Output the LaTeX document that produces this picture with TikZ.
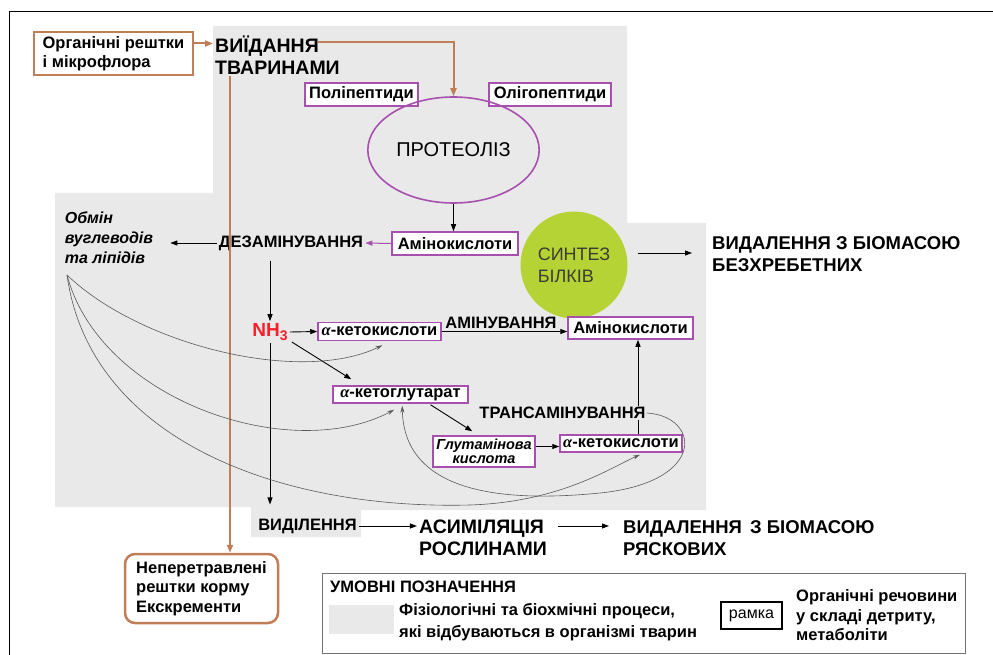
\documentclass[tikz,border=0pt]{standalone}
\usepackage{fontspec}
\setmainfont{Liberation Sans}
\newfontfamily\grf{Liberation Serif}
\usetikzlibrary{arrows.meta,shapes.geometric,calc}
\definecolor{brn}{RGB}{192,125,88}
\definecolor{prp}{RGB}{168,80,176}
\definecolor{grn}{RGB}{181,211,52}
\definecolor{gry}{RGB}{233,233,233}
\definecolor{nhred}{RGB}{250,30,40}
\definecolor{syn}{RGB}{60,60,50}
\newcommand\alf{{\grf\bfseries\itshape α}}
\tikzset{
  lbl/.style={inner sep=2pt, font=\fontsize{16.5}{19.5}\selectfont\bfseries, align=left},
  big/.style={inner sep=2pt, font=\fontsize{19.5}{21.5}\selectfont\bfseries, align=left},
  pbox/.style={draw=prp, line width=1.5pt, fill=white, inner sep=1pt, font=\fontsize{16.5}{17}\selectfont\bfseries},
  arr/.style={-{Triangle[length=7pt,width=5pt]}, line width=0.9pt},
  parr/.style={draw=prp, -{Triangle[length=7pt,width=5pt]}, line width=1pt},
  barr/.style={draw=brn, -{Triangle[length=8pt,width=6pt]}, line width=2pt},
  cur/.style={draw=black!65, line width=0.6pt, -{Stealth[length=7pt,width=4pt]}},
}
\begin{document}
\begin{tikzpicture}[x=1pt,y=-1pt]
\useasboundingbox (0,0) rectangle (993,655);
% frame
\draw[line width=1pt] (9,655) -- (9,12) -- (993,12);
% grey area
\fill[gry] (213,26) -- (627,26) -- (627,223) -- (706,223) -- (706,510) -- (361,510)
  -- (361,537) -- (251,537) -- (251,507) -- (55,507) -- (55,193) -- (213,193) -- cycle;

% nodes
\node[lbl, draw=brn, line width=2pt, fill=white, minimum width=159pt, minimum height=43pt] (org) at (113.5,53.5) {Органічні рештки\\і мікрофлора};
\node[big, anchor=west] (vyid) at (213,55) {ВИЇДАННЯ\\ТВАРИНАМИ};
\node[pbox, minimum width=113pt, minimum height=23pt] (poly) at (361.5,94.5) {Поліпептиди};
\node[pbox, minimum width=122pt, minimum height=23pt] (oligo) at (550,94.5) {Олігопептиди};
\node[ellipse, draw=prp, line width=1.6pt, minimum width=120pt, minimum height=106pt, font=\fontsize{20}{21}\selectfont] (prot) at (453.5,150) {ПРОТЕОЛІЗ};
\node[pbox, minimum width=126pt, minimum height=23pt] (amino1) at (455,243.5) {Амінокислоти};
\node[lbl] (dez) at (291,243) {ДЕЗАМІНУВАННЯ};
\node[lbl, font=\fontsize{16}{20}\selectfont\bfseries\itshape] (obmin) at (109,238) {Обмін\\вуглеводів\\та ліпідів};
\coordinate (src) at (67,275);
\node[circle, fill=grn, minimum size=107pt, inner sep=0, align=left, font=\fontsize{18}{22}\selectfont, text=syn] (syn) at (574,265) {СИНТЕЗ\\БІЛКІВ};
\node[big, anchor=west, font=\fontsize{18.5}{22}\selectfont\bfseries] (vid1) at (710,254) {ВИДАЛЕННЯ З БІОМАСОЮ\\БЕЗХРЕБЕТНИХ};
\node[inner sep=2pt, font=\fontsize{19}{20}\selectfont\bfseries, text=nhred] (nh3) at (270,332) {NH\raisebox{-4pt}{\fontsize{14}{14}\selectfont 3}};
\node[pbox, minimum width=123pt, minimum height=18pt] (kk1) at (379.5,331.5) {\alf-кетокислоти};
\node[lbl] (amlab) at (501,323) {АМІНУВАННЯ};
\node[pbox, minimum width=125pt, minimum height=22pt] (amino2) at (630.5,328) {Амінокислоти};
\node[pbox, minimum width=135pt, minimum height=17pt] (kg) at (400.5,394.5) {\alf-кетоглутарат};
\node[pbox, minimum width=102pt, minimum height=31pt, inner sep=0.5pt, align=center, font=\fontsize{14.5}{14}\selectfont\bfseries\itshape] (glu) at (484,451.5) {Глутамінова\\кислота};
\node[pbox, minimum width=122pt, minimum height=17pt] (kk2) at (621,443.5) {\alf-кетокислоти};
\coordinate (k2t) at ($(kk2.north)+(17,0)$);
\draw[arr] (k2t) -- (k2t |- amino2.south);
\node[lbl, fill=gry, inner sep=1pt] (trans) at (562.5,413) {ТРАНСАМІНУВАННЯ};
\node[lbl] (vyd) at (307.5,526) {ВИДІЛЕННЯ};
\node[big] (asym) at (483,538) {АСИМІЛЯЦІЯ\\РОСЛИНАМИ};
\node[big, anchor=west, font=\fontsize{18.5}{22}\selectfont\bfseries] (vid2) at (621,538) {ВИДАЛЕННЯ\hspace{3pt} З БІОМАСОЮ\\РЯСКОВИХ};
\node[lbl, draw=brn, line width=2.5pt, rounded corners=10pt, fill=white, minimum width=153pt, minimum height=69pt] (nepe) at (201.5,588.5) {Неперетравлені\\рештки корму\\Екскременти};

% legend
\node[draw=black!55, line width=0.8pt, minimum width=643pt, minimum height=80pt, inner sep=0] (leg) at (643.5,613) {};
\node[lbl, anchor=west] (legt) at (328,587) {УМОВНІ ПОЗНАЧЕННЯ};
\node[fill=gry, minimum width=65pt, minimum height=29pt, inner sep=0] (sw) at (361.5,619.5) {};
\node[lbl, anchor=west, font=\fontsize{16.5}{22}\selectfont\bfseries] (legd) at (397,622) {Фізіологічні та біохмічні процеси,\\які відбуваються в організмі тварин};
\node[draw, line width=1.3pt, minimum width=61pt, minimum height=27pt, inner sep=0, font=\fontsize{16}{16}\selectfont] (ramka) at (751.5,615.5) {рамка};
\node[lbl, anchor=west] (legr) at (794,615.5) {Органічні речовини\\у складі детриту,\\метаболіти};

% brown connectors
\draw[barr] ($(org.east)+(0,-10)$) -- ($(org.east -| vyid.west)+(0,-10)$);
\coordinate (vtop) at ($(vyid.north west)+(105,8)$);
\draw[barr] (vtop) -| (prot.north);
\coordinate (vbot) at ($(vyid.south west)+(17,0)$);
\draw[barr] (vbot) -- (vbot |- nepe.north);

% black/purple connectors
\draw[arr] (prot.south) -- (prot.south |- amino1.north);
\draw[parr] (amino1.west) -- (dez.east);
\draw[arr] (dez.west) -- ($(obmin.east |- dez.west)+(15,0)$);
\draw[arr, shorten <=8pt] (dez.south -| nh3) -- (nh3.north);
\draw[arr] (nh3.east) -- (kk1.west);
\draw[arr] ($(nh3.east)+(2,10)$) -- ($(kg.north west)+(19,-6)$);
\draw[arr] (nh3.south) -- ($(nh3.south |- vyd.north)+(0,-12)$);
\draw[arr] (kk1.east) -- (kk1.east -| amino2.west);
\draw[arr] ($(kg.south)+(30,1)$) -- ($(glu.north west)+(40,-4)$);
\draw[arr] ($(glu.east |- kk2.west)+(0,3)$) -- ($(kk2.west)+(0,3)$);
\draw[arr] ($(syn.east |- vid1.west)+(10,-1)$) -- ($(vid1.west)+(-18,-1)$);
\draw[arr] (vyd.east) -- (vyd.east -| asym.west);
\draw[arr] ($(asym.east |- vyd.east)+(9,0)$) -- ($(vid2.west |- vyd.east)+(-12,0)$);

% curves
\draw[cur] (src) .. controls (140,345) and (300,385) .. ($(kk1.south)+(3,4)$);
\draw[cur] (src) .. controls (100,400) and (290,465) .. ($(kg.south west)+(62,6)$);
\draw[cur] (src) .. controls (90,440) and (280,510) .. (470,505) .. controls (560,502) and (610,468) .. ($(kk2.south)+(19,2)$);
\draw[cur] (trans.east) .. controls (700,416) and (708,482) .. (600,493) .. controls (500,503) and (404,492) .. ($(kg.south west)+(70,2)$);
\end{tikzpicture}
\end{document}
